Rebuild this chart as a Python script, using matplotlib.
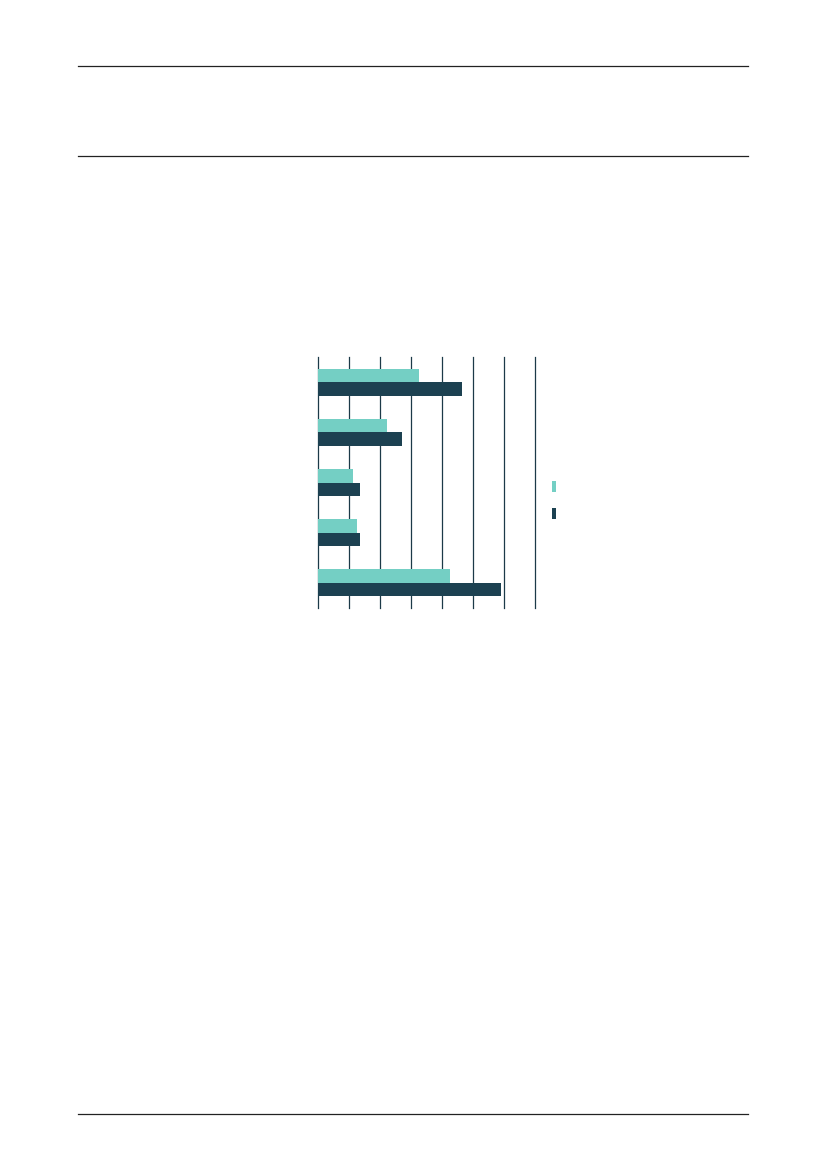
import matplotlib
matplotlib.use("Agg")
import matplotlib.pyplot as plt
import numpy as np
from matplotlib.lines import Line2D
from matplotlib.patches import Patch

categories = ["A", "B", "C", "D", "E"]
series1 = [3.25, 2.23, 1.13, 1.25, 4.25]
series2 = [4.63, 2.70, 1.35, 1.35, 5.90]
ticks = list(range(8))

teal = "#74cfc4"
dark = "#1c4151"
gridc = "#1c3a48"

fig = plt.figure(figsize=(8.27, 11.69), dpi=100)
W, H = 827, 1169

def fx(px):
    return px / W

def fy(py):
    return 1 - py / H

ax = fig.add_axes([fx(318.3), fy(608), fx(535.3) - fx(318.3), fy(357) - fy(608)])
y = np.arange(len(categories))
h = 0.27
ax.barh(y - h / 2, series1, height=h, color=teal, zorder=3)
ax.barh(y + h / 2, series2, height=h, color=dark, zorder=3)
ax.set_xlim(0, 7)
ax.set_ylim(len(categories) - 0.5, -0.5)
ax.set_xticks(ticks)
ax.set_yticks([])
ax.tick_params(axis="x", length=0, labelbottom=False)
for s in ax.spines.values():
    s.set_visible(False)
ax.grid(axis="x", color=gridc, lw=0.9, zorder=0)
for gl in ax.get_xgridlines():
    gl.set_clip_on(False)
ax.set_axisbelow(True)

handles = [Patch(facecolor=teal), Patch(facecolor=dark)]
fig.legend(handles, [" ", " "], loc="upper left",
           bbox_to_anchor=(fx(552), fy(480)), frameon=False,
           borderpad=0, borderaxespad=0, handlelength=0.3, handleheight=0.85,
           handletextpad=0.2, labelspacing=0.95, fontsize=10)

for yy, x0, x1 in [(66, 78.3, 748.3), (156.3, 78.3, 748.3), (1114.3, 78.3, 748.3)]:
    fig.add_artist(Line2D([fx(x0), fx(x1)], [fy(yy), fy(yy)], color="#222222", lw=0.9))

fig.savefig("out.png", dpi=100)
